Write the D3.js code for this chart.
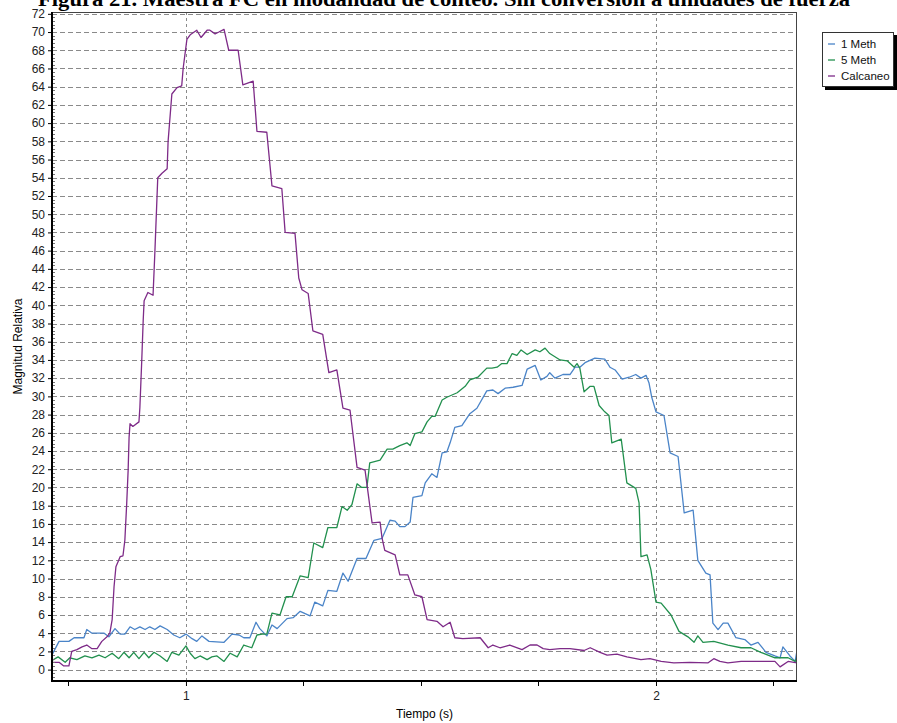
<!DOCTYPE html>
<html>
<head>
<meta charset="utf-8">
<script src="https://cdn.jsdelivr.net/npm/d3@7/dist/d3.min.js"></script>
<style>
  body { margin: 0; background: #fff; }
  text { font-family: Arial, "Liberation Sans", sans-serif; }
</style>
</head>
<body>
<svg width="897" height="723"></svg>
<script>
// ---- data ----
var titulo = "Figura 21. Maestra FC en modalidad de conteo. Sin conversión a unidades de fuerza";
var serieNames = ["1 Meth", "5 Meth", "Calcaneo"];
var serieColors = ["#4a84c8", "#22904e", "#7e2b88"];

var meth1T = [0.715,0.730,0.751,0.762,0.783,0.789,0.800,0.826,0.836,0.849,0.860,0.870,0.881,0.891,0.902,0.913,0.923,0.934,0.945,0.960,0.974,0.987,1.000,1.013,1.023,1.034,1.049,1.081,1.098,1.113,1.123,1.136,1.149,1.157,1.172,1.183,1.194,1.215,1.228,1.243,1.264,1.274,1.291,1.302,1.321,1.334,1.345,1.364,1.383,1.400,1.417,1.434,1.445,1.455,1.466,1.477,1.483,1.502,1.509,1.523,1.534,1.545,1.555,1.562,1.572,1.587,1.604,1.619,1.640,1.653,1.664,1.679,1.696,1.715,1.726,1.743,1.755,1.768,1.774,1.785,1.802,1.817,1.828,1.838,1.849,1.870,1.891,1.902,1.913,1.928,1.943,1.957,1.968,1.979,1.985,1.991,2.000,2.017,2.030,2.047,2.060,2.079,2.089,2.106,2.115,2.121,2.132,2.143,2.153,2.170,2.189,2.202,2.217,2.234,2.253,2.264,2.270,2.285,2.296,2.300];
var meth1V = [1.6,3.1,3.1,3.5,3.5,4.4,4.0,4.0,3.6,4.5,3.9,3.9,4.7,4.4,4.7,4.4,4.7,4.4,4.8,4.4,3.8,3.5,3.9,3.4,3.1,3.7,3.1,3.0,3.9,3.8,3.5,3.5,5.2,4.5,3.7,4.9,4.5,5.6,5.7,6.4,5.9,7.4,7.0,8.7,8.6,10.6,9.7,12.2,12.2,14.2,14.4,16.4,16.3,15.7,15.7,16.2,18.9,19.1,20.5,21.5,21.1,23.8,23.9,24.9,26.6,26.8,28.1,28.7,30.6,30.7,30.3,30.9,31.0,31.2,33.0,33.4,31.8,32.2,32.6,32.0,32.4,32.4,33.2,33.2,33.7,34.2,34.1,33.2,32.9,31.9,32.1,32.4,32.0,32.3,31.5,29.9,28.3,27.9,23.8,23.4,17.2,17.5,12.0,10.6,10.4,5.1,4.4,5.1,5.1,3.5,3.3,2.7,3.0,1.9,1.5,1.3,2.5,1.5,0.9,2.1];

var meth5T = [0.715,0.728,0.743,0.753,0.768,0.785,0.800,0.815,0.828,0.843,0.857,0.868,0.879,0.889,0.900,0.911,0.921,0.932,0.945,0.960,0.970,0.985,1.000,1.009,1.019,1.030,1.045,1.055,1.066,1.081,1.094,1.109,1.123,1.140,1.151,1.162,1.172,1.183,1.200,1.213,1.226,1.243,1.260,1.272,1.291,1.302,1.321,1.332,1.343,1.353,1.364,1.374,1.385,1.391,1.413,1.428,1.440,1.455,1.470,1.477,1.487,1.502,1.513,1.523,1.530,1.545,1.555,1.577,1.594,1.604,1.621,1.640,1.651,1.662,1.672,1.683,1.694,1.704,1.713,1.726,1.743,1.753,1.764,1.774,1.796,1.811,1.826,1.832,1.838,1.847,1.860,1.868,1.879,1.891,1.900,1.906,1.926,1.938,1.957,1.964,1.968,1.981,1.989,2.000,2.011,2.032,2.049,2.068,2.081,2.089,2.100,2.123,2.153,2.181,2.202,2.223,2.253,2.281,2.296,2.300];
var meth5V = [1.0,1.4,0.8,1.3,1.1,1.5,1.3,1.6,1.3,1.8,1.2,1.9,1.3,1.9,1.2,1.9,1.3,1.9,1.5,0.9,1.9,1.6,2.6,1.8,1.2,1.5,1.1,1.4,1.5,0.9,1.8,1.4,2.7,2.4,3.8,3.9,3.9,6.2,6.0,8.0,8.0,10.3,10.1,13.9,13.4,15.6,15.6,17.9,17.5,18.1,20.4,20.0,20.0,22.7,23.0,24.2,24.2,24.6,24.9,24.6,25.9,26.1,27.2,27.8,27.8,29.6,29.9,30.4,31.1,31.8,32.1,33.1,33.1,33.2,33.6,33.6,34.7,34.5,35.1,34.6,35.1,34.9,35.3,34.7,34.0,33.9,33.2,33.6,33.1,30.5,31.1,31.1,29.0,28.3,27.9,24.9,25.3,20.5,19.9,18.3,12.4,12.6,11.0,7.4,7.3,6.0,4.2,3.6,3.0,3.7,3.0,3.1,2.7,2.4,2.4,1.9,1.3,1.3,0.9,1.3];

var calcT = [0.715,0.730,0.740,0.751,0.757,0.768,0.779,0.789,0.800,0.811,0.821,0.832,0.838,0.843,0.847,0.851,0.860,0.866,0.870,0.874,0.877,0.879,0.881,0.887,0.900,0.902,0.906,0.909,0.911,0.919,0.930,0.934,0.940,0.949,0.960,0.962,0.970,0.981,0.991,0.994,1.002,1.009,1.023,1.032,1.045,1.051,1.062,1.070,1.081,1.091,1.111,1.121,1.143,1.151,1.172,1.183,1.204,1.211,1.232,1.240,1.247,1.260,1.270,1.291,1.304,1.321,1.334,1.349,1.364,1.381,1.396,1.413,1.417,1.423,1.445,1.455,1.472,1.487,1.502,1.513,1.534,1.547,1.562,1.572,1.589,1.626,1.643,1.653,1.668,1.689,1.715,1.732,1.747,1.760,1.774,1.796,1.817,1.847,1.860,1.881,1.896,1.917,1.938,1.968,1.987,2.011,2.038,2.072,2.111,2.123,2.136,2.153,2.181,2.221,2.253,2.264,2.281,2.300];
var calcV = [0.8,0.8,0.4,0.4,2.0,2.2,2.5,2.7,2.3,2.3,3.1,3.6,4.0,5.5,9.1,11.3,12.4,12.5,14.2,18.3,21.9,25.5,27.0,26.7,27.2,28.8,34.0,38.3,40.5,41.4,41.1,46.0,54.0,54.5,55.0,58.0,63.2,63.9,64.1,66.0,69.2,69.7,70.2,69.4,70.2,70.2,69.8,70.0,70.3,68.0,68.0,64.2,64.6,59.1,59.0,53.1,52.8,48.0,47.9,43.0,41.7,41.3,37.2,36.8,32.6,32.9,28.7,28.5,22.2,21.9,16.1,16.2,14.5,13.1,12.6,10.4,10.4,8.2,8.0,5.5,5.3,4.7,5.2,3.5,3.4,3.5,2.4,2.7,2.4,2.7,2.2,2.7,2.7,2.3,2.2,2.3,2.3,2.1,2.4,1.9,1.6,1.7,1.4,1.1,1.2,0.9,0.75,0.8,0.75,1.2,0.9,0.75,0.9,0.9,0.9,0.3,0.9,0.75];

var xTicks = [1, 2];
var xMinorTicks = [0.75, 1.25, 1.5, 1.75, 2.25];
var yTicks = d3.range(0, 73, 2);
var yMinorTicks = d3.range(-0.8, 72, 0.4).filter(function(d) { return Math.abs(d / 2 - Math.round(d / 2)) > 0.01; });

// ---- layout ----
var plot = {left: 52, top: 12, right: 797, bottom: 681};

var x = d3.scaleLinear().domain([0.715, 2.3]).range([plot.left, plot.right]);
var y = d3.scaleLinear().domain([-1.25, 72.2]).range([plot.bottom, plot.top]);

var svg = d3.select("svg");

svg.append("rect")
    .attr("width", 897).attr("height", 723)
    .style("fill", "#fff");

// title, cut off at the top of the picture
svg.append("text")
    .attr("x", 38)
    .attr("y", 6)
    .attr("textLength", 812)
    .attr("lengthAdjust", "spacingAndGlyphs")
    .style("font-family", "'Liberation Serif', 'Times New Roman', serif")
    .style("font-weight", "bold")
    .style("font-size", "20px")
    .style("fill", "#000")
    .text(titulo);

svg.append("defs").append("clipPath")
    .attr("id", "plotClip")
    .append("rect")
    .attr("x", plot.left).attr("y", plot.top)
    .attr("width", plot.right - plot.left).attr("height", plot.bottom - plot.top);

// grid
var grid = svg.append("g").attr("id", "grid");
grid.selectAll("line.h")
    .data(yTicks)
    .enter()
    .append("line")
    .attr("class", "h")
    .attr("x1", plot.left).attr("x2", plot.right)
    .attr("y1", function(d) { return Math.round(y(d)) + 0.5; })
    .attr("y2", function(d) { return Math.round(y(d)) + 0.5; })
    .style("stroke", "#8a8a8a")
    .style("stroke-width", "1px")
    .style("stroke-dasharray", "5,3");
grid.selectAll("line.v")
    .data(xTicks)
    .enter()
    .append("line")
    .attr("class", "v")
    .attr("y1", plot.top).attr("y2", plot.bottom)
    .attr("x1", function(d) { return Math.round(x(d)) + 0.5; })
    .attr("x2", function(d) { return Math.round(x(d)) + 0.5; })
    .style("stroke", "#8a8a8a")
    .style("stroke-width", "1px")
    .style("stroke-dasharray", "3,3");

// series
var series = [
    {name: serieNames[0], t: meth1T, v: meth1V, color: serieColors[0]},
    {name: serieNames[1], t: meth5T, v: meth5V, color: serieColors[1]},
    {name: serieNames[2], t: calcT, v: calcV, color: serieColors[2]}
];

var line = d3.line()
    .x(function(d) { return x(d[0]); })
    .y(function(d) { return y(d[1]); });

svg.append("g")
    .attr("clip-path", "url(#plotClip)")
    .selectAll("path")
    .data(series)
    .enter()
    .append("path")
    .attr("d", function(s) { return line(d3.zip(s.t, s.v)); })
    .style("fill", "none")
    .style("stroke", function(s) { return s.color; })
    .style("stroke-width", "1.3px")
    .style("stroke-linejoin", "round");

// frame: thin top/right, heavy left/bottom axes
svg.append("rect")
    .attr("x", plot.left + 0.5).attr("y", plot.top + 0.5)
    .attr("width", plot.right - plot.left - 1).attr("height", plot.bottom - plot.top - 1)
    .style("fill", "none")
    .style("stroke", "#444")
    .style("stroke-width", "1px");

// y axis
var yAxis = d3.axisLeft(y)
    .tickValues(yTicks)
    .tickSize(4)
    .tickPadding(3)
    .tickFormat(d3.format("d"));
var yG = svg.append("g")
    .attr("transform", "translate(" + plot.left + ",0)")
    .call(yAxis);
yG.select(".domain").remove();
yG.selectAll(".tick line").style("stroke", "#000");
yG.selectAll("text")
    .style("font-size", "12px")
    .style("fill", "#222")
    .style("font-family", "Arial, 'Liberation Sans', sans-serif");

svg.append("g")
    .selectAll("line")
    .data(yMinorTicks)
    .enter()
    .append("line")
    .attr("x1", plot.left + 1).attr("x2", plot.left + 3)
    .attr("y1", function(d) { return Math.round(y(d)) + 0.5; })
    .attr("y2", function(d) { return Math.round(y(d)) + 0.5; })
    .style("stroke", "#777");

// x axis
var xAxis = d3.axisBottom(x)
    .tickValues(xTicks)
    .tickSize(5)
    .tickPadding(5)
    .tickFormat(d3.format("d"));
var xG = svg.append("g")
    .attr("transform", "translate(0," + plot.bottom + ")")
    .call(xAxis);
xG.select(".domain").remove();
xG.selectAll(".tick line").style("stroke", "#000");
xG.selectAll("text")
    .style("font-size", "12px")
    .style("fill", "#222")
    .style("font-family", "Arial, 'Liberation Sans', sans-serif");

svg.append("g")
    .selectAll("line")
    .data(xMinorTicks)
    .enter()
    .append("line")
    .attr("x1", function(d) { return Math.round(x(d)) + 0.5; })
    .attr("x2", function(d) { return Math.round(x(d)) + 0.5; })
    .attr("y1", plot.bottom).attr("y2", plot.bottom + 5)
    .style("stroke", "#000");

svg.append("line")
    .attr("x1", plot.left).attr("x2", plot.left)
    .attr("y1", plot.top).attr("y2", plot.bottom + 1)
    .style("stroke", "#000")
    .style("stroke-width", "2px");
svg.append("line")
    .attr("x1", plot.left - 1).attr("x2", plot.right)
    .attr("y1", plot.bottom).attr("y2", plot.bottom)
    .style("stroke", "#000")
    .style("stroke-width", "2px");

// axis titles
svg.append("text")
    .attr("x", (plot.left + plot.right) / 2)
    .attr("y", 718)
    .style("text-anchor", "middle")
    .style("font-size", "12px")
    .text("Tiempo (s)");
svg.append("text")
    .attr("transform", "translate(22," + ((plot.top + plot.bottom) / 2) + ") rotate(-90)")
    .style("text-anchor", "middle")
    .style("font-size", "12px")
    .text("Magnitud Relativa");

// legend
var legend = svg.append("g").attr("transform", "translate(822,32)");
legend.append("rect")
    .attr("x", 3).attr("y", 3)
    .attr("width", 72).attr("height", 55)
    .style("fill", "#000");
legend.append("rect")
    .attr("x", 0.5).attr("y", 0.5)
    .attr("width", 71).attr("height", 54)
    .style("fill", "#fff")
    .style("stroke", "#333");
var item = legend.selectAll("g.item")
    .data(series)
    .enter()
    .append("g")
    .attr("class", "item")
    .attr("transform", function(d, i) { return "translate(0," + (12 + i * 16) + ")"; });
item.append("line")
    .attr("x1", 6).attr("x2", 13)
    .style("stroke", function(d) { return d.color; })
    .style("stroke-width", "1.3px");
item.append("text")
    .attr("x", 19)
    .attr("y", 4)
    .style("font-size", "11.5px")
    .style("fill", "#111")
    .text(function(d) { return d.name; });
</script>
</body>
</html>
